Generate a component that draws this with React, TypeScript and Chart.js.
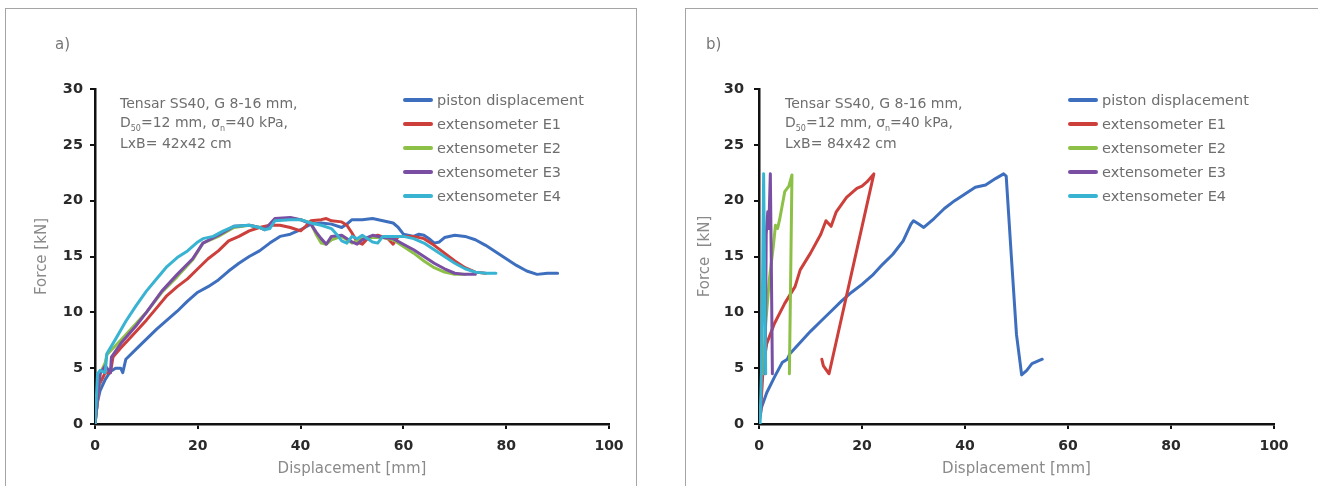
import React, { useEffect, useRef } from "react";
import { Chart, registerables } from "chart.js";

Chart.register(...registerables);

// ---------- data ----------
const xTicks = [0, 20, 40, 60, 80, 100];
const yTicks = [0, 5, 10, 15, 20, 25, 30];
const seriesNames = [
  "piston displacement",
  "extensometer E1",
  "extensometer E2",
  "extensometer E3",
  "extensometer E4",
];
const seriesColors = ["#3d6fbe", "#cc3f3b", "#8dc046", "#7a4fa3", "#38b3d2"];

// panel a) 42x42 cm
const aPiston: [number, number][] = [
  [0, 0], [0.5, 2], [1, 3], [2, 4], [3, 4.7], [4, 5], [5, 5], [5.4, 4.6], [6, 5.8], [8, 6.7],
  [10, 7.6], [12, 8.5], [14, 9.3], [16, 10.1], [18, 11], [20, 11.8], [22, 12.3], [24, 12.9],
  [26, 13.7], [28, 14.4], [30, 15], [32, 15.5], [34, 16.2], [36, 16.8], [38, 17], [40, 17.4],
  [42, 17.9], [44, 18], [46, 17.9], [48, 17.6], [49, 17.9], [50, 18.3], [52, 18.3], [54, 18.4],
  [56, 18.2], [58, 18], [59, 17.6], [60, 17], [62, 16.8], [63, 17], [64, 16.9], [65, 16.6],
  [66, 16.2], [67, 16.3], [68, 16.7], [70, 16.9], [72, 16.8], [74, 16.5], [76, 16], [78, 15.4],
  [80, 14.8], [82, 14.2], [84, 13.7], [86, 13.4], [88, 13.5], [90, 13.5],
];
const aE1: [number, number][] = [
  [0, 0], [0.8, 3.5], [2, 4.6], [3, 4.6], [3.5, 6], [5, 6.8], [7, 7.8], [10, 9.3], [12, 10.4],
  [14, 11.5], [16, 12.3], [18, 13], [20, 13.9], [22, 14.8], [24, 15.5], [26, 16.4], [28, 16.8],
  [30, 17.3], [32, 17.6], [34, 17.8], [36, 17.8], [38, 17.6], [40, 17.3], [41, 17.7], [42, 18.2],
  [44, 18.3], [45, 18.4], [46, 18.2], [48, 18.1], [49, 17.8], [50, 17.1], [51, 16.3], [52, 16.1],
  [53, 16.6], [55, 16.9], [57, 16.6], [58, 16.1], [59, 16.8], [62, 16.8], [64, 16.6], [66, 16],
  [68, 15.3], [70, 14.6], [72, 14], [74, 13.6], [76, 13.5],
];
const aE2: [number, number][] = [
  [0, 0], [1, 4.5], [2, 5.5], [2.3, 6.2], [5, 7.5], [8, 9], [10, 10], [13, 11.8], [16, 13.2],
  [19, 14.7], [21, 16.2], [24, 16.8], [27, 17.6], [30, 17.8], [32, 17.6], [33, 17.4], [35, 18.3],
  [38, 18.4], [40, 18.3], [42, 18], [43, 17], [44, 16.2], [45, 16.1], [46, 16.5], [48, 16.8],
  [50, 16.2], [52, 16.6], [54, 16.7], [56, 16.7], [58, 16.5], [60, 15.9], [62, 15.3], [64, 14.6],
  [66, 14], [68, 13.6], [70, 13.4], [72, 13.4],
];
const aE3: [number, number][] = [
  [0, 0], [1, 4.5], [2, 5.2], [3, 4.6], [3.2, 6], [5, 7.2], [8, 8.8], [10, 10], [13, 11.9],
  [16, 13.4], [19, 14.8], [21, 16.2], [24, 16.9], [27, 17.7], [30, 17.8], [32, 17.6], [33, 17.4],
  [35, 18.4], [38, 18.5], [40, 18.3], [42, 17.9], [43, 17.2], [44, 16.6], [45, 16.1], [46, 16.8],
  [48, 16.9], [50, 16.3], [51, 16.1], [52, 16.5], [54, 16.9], [56, 16.7], [58, 16.6], [60, 16.1],
  [62, 15.6], [64, 15], [66, 14.4], [68, 13.9], [70, 13.5], [72, 13.4], [74, 13.4],
];
const aE4: [number, number][] = [
  [0, 0], [0.5, 4.5], [1, 4.8], [2, 4.6], [2.3, 6.3], [4, 7.6], [6, 9.2], [8, 10.6], [10, 11.9],
  [12, 13], [14, 14.1], [16, 14.9], [18, 15.5], [20, 16.3], [21, 16.6], [23, 16.8], [25, 17.3],
  [27, 17.7], [30, 17.8], [32, 17.6], [33, 17.4], [34, 17.5], [35, 18.2], [38, 18.3], [40, 18.3],
  [42, 18], [44, 17.8], [46, 17.5], [47, 17], [48, 16.4], [49, 16.2], [50, 16.8], [51, 16.6],
  [52, 16.9], [54, 16.3], [55, 16.2], [56, 16.8], [58, 16.8], [60, 16.8], [62, 16.6], [64, 16.2],
  [66, 15.6], [68, 15], [70, 14.4], [72, 13.9], [74, 13.6], [76, 13.5], [78, 13.5],
];

// panel b) 84x42 cm
const bPiston: [number, number][] = [
  [0, 0], [0.5, 1.5], [1.5, 2.8], [3, 4.2], [4.5, 5.5], [5.5, 5.8], [6, 6.3], [8, 7.3], [10, 8.3],
  [12, 9.2], [14, 10.1], [16, 11], [18, 11.8], [20, 12.5], [22, 13.3], [24, 14.3], [26, 15.2],
  [28, 16.4], [29.5, 17.9], [30, 18.2], [31, 17.9], [32, 17.6], [34, 18.4], [36, 19.3], [38, 20],
  [40, 20.6], [42, 21.2], [44, 21.4], [46, 22], [47.5, 22.4], [48, 22.2], [49, 15], [50, 8],
  [51, 4.4], [52, 4.8], [53, 5.4], [54, 5.6], [55, 5.8],
];
const bE1: [number, number][] = [
  [0.3, 1], [0.8, 5], [1.5, 7.2], [3, 9], [5, 10.8], [7, 12.3], [8, 13.8], [10, 15.3], [12, 17],
  [13, 18.2], [14, 17.7], [15, 19], [17, 20.3], [19, 21.1], [20, 21.3], [21, 21.7], [22.3, 22.4],
  [13.6, 4.5], [12.5, 5.2], [12.2, 5.8],
];
const bE2: [number, number][] = [
  [0.8, 4.5], [1.3, 9], [2, 12.9], [2.8, 16], [3.2, 17.8], [3.6, 17.5], [4, 18.3], [5, 20.8],
  [5.8, 21.3], [6.4, 22.3], [6.2, 15], [5.9, 4.5],
];
const bE3: [number, number][] = [
  [1.2, 4.5], [1.4, 17], [1.7, 19], [1.9, 17.5], [2.2, 22.4], [2.4, 14], [2.6, 4.5],
];
const bE4: [number, number][] = [
  [0.2, 0], [0.5, 5], [0.7, 13], [0.9, 22.4], [1.1, 13], [1.3, 4.5],
];

const FONT = "'DejaVu Sans', sans-serif";

type PanelProps = {
  left: number;
  width: number;
  label: string;
  size: string;
  series: [number, number][][];
  padLeft: number;
  padRight: number;
  yWidth: number;
  yTitle: string;
  yTitlePad: number;
  yTickPad: number;
  annLeft: number;
  legLine: number;
  labelLeft: number;
};

function Panel(p: PanelProps) {
  const ref = useRef<HTMLCanvasElement | null>(null);
  const H = 478;
  useEffect(() => {
    if (!ref.current) return;
    const datasets = p.series.map((pts, i) => ({
      label: seriesNames[i],
      data: pts.map(([x, y]) => ({ x, y })),
      showLine: true,
      borderColor: seriesColors[i],
      backgroundColor: seriesColors[i],
      borderWidth: 3,
      pointRadius: 0,
      tension: 0,
      borderJoinStyle: "round" as const,
      borderCapStyle: "round" as const,
    }));
    const chart = new Chart(ref.current, {
      type: "scatter",
      data: { datasets: datasets.slice().reverse() },
      options: {
        animation: false,
        responsive: false,
        maintainAspectRatio: false,
        events: [],
        layout: { padding: { left: p.padLeft, right: p.padRight, top: 81, bottom: 0 } },
        plugins: { legend: { display: false }, tooltip: { enabled: false } },
        scales: {
          x: {
            type: "linear",
            min: 0,
            max: 100,
            afterBuildTicks: (s: any) => {
              s.ticks = xTicks.map((v) => ({ value: v }));
            },
            afterFit: (s: any) => {
              s.height = 62;
            },
            ticks: {
              color: "#2a2a2a",
              font: { family: FONT, size: 14, weight: "bold" },
              padding: 9,
              maxRotation: 0,
            },
            grid: { drawOnChartArea: false, drawTicks: true, tickLength: 5, color: "#111", lineWidth: 2 },
            border: { display: true, color: "#111", width: 2.5 },
            title: {
              display: true,
              text: "Displacement [mm]",
              color: "#8a8a8a",
              font: { family: FONT, size: 15 },
              padding: { top: 0, bottom: 8 },
            },
          },
          y: {
            type: "linear",
            min: 0,
            max: 30,
            afterBuildTicks: (s: any) => {
              s.ticks = yTicks.map((v) => ({ value: v }));
            },
            afterFit: (s: any) => {
              s.width = p.yWidth;
            },
            ticks: {
              color: "#2a2a2a",
              font: { family: FONT, size: 14.5, weight: "bold" },
              padding: p.yTickPad,
            },
            grid: { drawOnChartArea: false, drawTicks: true, tickLength: 5, color: "#111", lineWidth: 2 },
            border: { display: true, color: "#111", width: 2.5 },
            title: {
              display: true,
              text: p.yTitle,
              color: "#8a8a8a",
              font: { family: FONT, size: 15 },
              padding: { top: p.yTitlePad, bottom: 0 },
            },
          },
        },
      },
    } as any);
    return () => chart.destroy();
  }, []);

  const textColor = "#6e6e6e";
  const rowY = [100, 124, 148, 172, 196];
  return (
    <>
      <div
        style={{
          position: "absolute",
          left: p.left,
          top: 8,
          width: p.width,
          height: 520,
          border: "1px solid #a5a5a5",
          boxSizing: "border-box",
        }}
      />
      <canvas
        ref={ref}
        width={p.width}
        height={H}
        style={{ position: "absolute", left: p.left, top: 8, width: p.width, height: H }}
      />
      <div
        style={{
          position: "absolute",
          left: p.labelLeft,
          top: 34,
          font: `15px ${FONT}`,
          color: "#777",
          lineHeight: "20px",
        }}
      >
        {p.label}
      </div>
      <div
        style={{
          position: "absolute",
          left: p.annLeft,
          top: 94,
          font: `14px ${FONT}`,
          color: textColor,
          lineHeight: "18.5px",
          whiteSpace: "nowrap",
        }}
      >
        <div>Tensar SS40, G 8-16 mm,</div>
        <div>
          D
          <span style={{ fontSize: 8, position: "relative", top: 4 }}>50</span>
          =12 mm, σ
          <span style={{ fontSize: 8, position: "relative", top: 4 }}>n</span>
          =40 kPa,
        </div>
        <div>LxB= {p.size} cm</div>
      </div>
      {seriesNames.map((n, i) => (
        <div
          key={n}
          style={{
            position: "absolute",
            left: p.legLine,
            top: rowY[i] - 10,
            height: 20,
            display: "flex",
            alignItems: "center",
            whiteSpace: "nowrap",
          }}
        >
          <span
            style={{
              display: "inline-block",
              width: 30,
              height: 3.5,
              borderRadius: 2,
              background: seriesColors[i],
            }}
          />
          <span style={{ marginLeft: 4, font: `14.5px ${FONT}`, color: textColor }}>{n}</span>
        </div>
      ))}
    </>
  );
}

export default function App() {
  return (
    <div
      style={{
        position: "absolute",
        left: 0,
        top: 0,
        width: 1318,
        height: 486,
        overflow: "hidden",
        background: "#fff",
      }}
    >
      <Panel
        left={5}
        width={632}
        label="a)"
        size="42x42"
        series={[aPiston, aE1, aE2, aE3, aE4]}
        padLeft={19}
        padRight={28}
        yWidth={71}
        yTitle="Force [kN]"
        yTitlePad={9}
        yTickPad={7}
        annLeft={120}
        legLine={403}
        labelLeft={55}
      />
      <Panel
        left={685}
        width={640}
        label="b)"
        size="84x42"
        series={[bPiston, bE1, bE2, bE3, bE4]}
        padLeft={3}
        padRight={51}
        yWidth={71}
        yTitle="Force  [kN]"
        yTitlePad={8}
        yTickPad={10}
        annLeft={785}
        legLine={1068}
        labelLeft={706}
      />
    </div>
  );
}
